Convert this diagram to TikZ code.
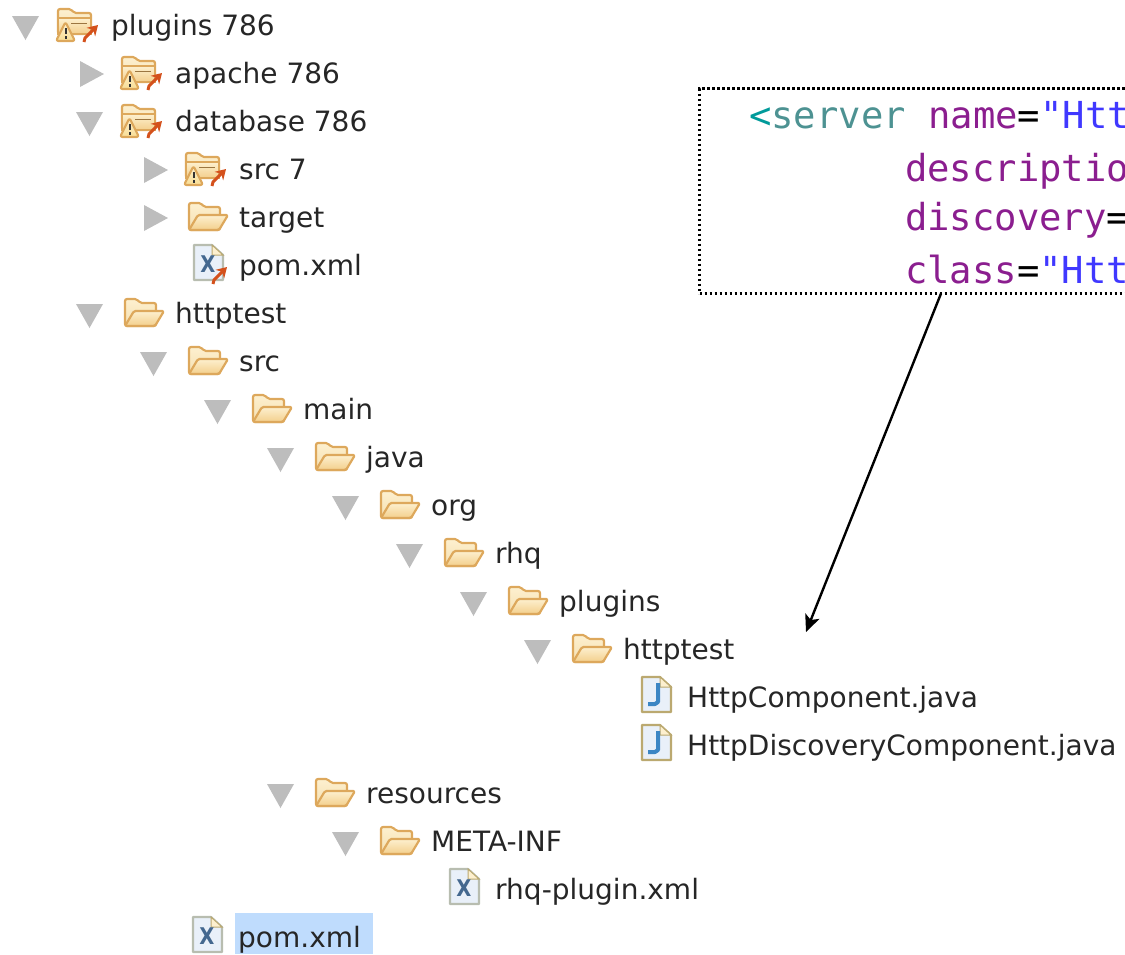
\documentclass[tikz,border=0pt]{standalone}
\usepackage{fontspec}
\setmainfont{DejaVu Sans}
\setmonofont{DejaVu Sans Mono}
\usetikzlibrary{arrows.meta,calc}
\definecolor{treeink}{HTML}{262626}
\definecolor{trigray}{HTML}{BDBDBD}
\definecolor{foldline}{HTML}{DDA85C}
\definecolor{foldback}{HTML}{F5E0B2}
\definecolor{foldfront}{HTML}{FDF0CF}
\definecolor{foldlow}{HTML}{F3CF8C}
\definecolor{warnfill}{HTML}{F8DD94}
\definecolor{linkorange}{HTML}{D4511C}
\definecolor{pagefill}{HTML}{E9F0F9}
\definecolor{pageline}{HTML}{BBA970}
\definecolor{xmlline}{HTML}{B8BDB0}
\definecolor{xmlblue}{HTML}{44688F}
\definecolor{javablue}{HTML}{3C86C4}
\definecolor{selblue}{HTML}{BFDCFD}
\definecolor{xmlpurple}{HTML}{8B1E8F}
\definecolor{xmlteal}{HTML}{009A9A}
\definecolor{xmlname}{HTML}{4D9292}
\definecolor{xmlvalue}{HTML}{4038FF}
\tikzset{
  treetext/.style={anchor=base west,inner sep=0pt,text=treeink,font=\fontsize{28}{30}\selectfont},
  codetext/.style={anchor=base west,inner sep=0pt,font=\ttfamily\fontsize{37.2}{40}\selectfont},
  pics/none/.style={code={}},
  pics/tridown/.style={code={\fill[trigray] (-99,-9) -- (-72,-9) -- (-85.5,15) -- cycle;}},
  pics/triright/.style={code={\fill[trigray] (-95,-12) -- (-71,1) -- (-95,14) -- cycle;}},
  pics/folderopen/.style={code={
    \filldraw[foldline,top color=foldfront,bottom color=foldback,line width=2.2pt,line join=round,rounded corners=2pt]
      (-50,13) -- (-50,-14) -- (-38,-14) -- (-35,-10) -- (-19,-10) -- (-19,13) -- cycle;
    \filldraw[foldline,top color=foldfront,bottom color=foldlow,line width=2.2pt,line join=round,rounded corners=1.5pt]
      (-50,13) -- (-41,-2) -- (-11,-2) -- (-20,13) -- cycle;
  }},
  pics/linkarrow/.style={code={
    \draw[linkorange,line width=3pt,-{Stealth[length=10pt,width=12pt]}] (-1,17) -- (0,13) -- (13,0);
  }},
  pics/folderwarn/.style={code={
    \filldraw[foldline,top color=foldfront,bottom color=foldback,line width=2.2pt,line join=round,rounded corners=2pt]
      (-53,9) -- (-53,-16) -- (-40,-16) -- (-37,-12) -- (-20,-12) -- (-20,9) -- cycle;
    \filldraw[foldline,top color=foldfront,bottom color=foldlow,line width=1.4pt] (-53,-7) -- (-20,-7) -- (-20,9) -- (-53,9) -- cycle;
    \draw[foldline!70!black,line width=1pt] (-40,-2) -- (-24,-2);
    \filldraw[foldline,top color=foldfront,bottom color=warnfill,line width=2.2pt,line join=round,rounded corners=2.5pt] (-55,16) -- (-45.5,-3) -- (-36,16) -- cycle;
    \fill[black!80] (-46.5,3) rectangle (-44.5,9);
    \fill[black!80] (-46.5,11) rectangle (-44.5,13.5);
    \pic at (-26,0) {linkarrow};
  }},
  pics/pagebase/.style={code={
    \filldraw[pageline,fill=pagefill,line width=2.2pt,line join=round]
      (-45,-20) -- (-27,-20) -- (-16,-10) -- (-16,15) -- (-45,15) -- cycle;
    \filldraw[pageline,fill=foldfront,line width=1pt] (-27,-20) -- (-27,-10) -- (-16,-10) -- cycle;
  }},
  pics/pagexmlbase/.style={code={
    \filldraw[xmlline,fill=pagefill,line width=2.2pt,line join=round]
      (-45,-20) -- (-27,-20) -- (-16,-10) -- (-16,15) -- (-45,15) -- cycle;
    \filldraw[pageline,fill=foldfront,line width=1pt] (-27,-20) -- (-27,-10) -- (-16,-10) -- cycle;
  }},
  pics/pagejava/.style={code={
    \pic {pagebase};
    \draw[javablue,line width=4pt,line join=round] (-29,-14) -- (-29,5) -- (-32,7) -- (-39,7);
  }},
  pics/pagexml/.style={code={
    \pic {pagexmlbase};
    \node[inner sep=0pt,text=xmlblue,font=\bfseries\fontsize{23}{24}\selectfont,xscale=.85] at (-31,-1) {X};
  }},
  pics/pagexmllink/.style={code={
    \pic {pagexml};
    \pic at (-25,2) {linkarrow};
  }}
}
\newcommand{\treerow}[6]{%
  \pic at (#2,#3) {#4};
  \pic at (#2,#3) {#5};
  \node[treetext] (#1) at (#2,#3+10) {#6};
}
\begin{document}
\begin{tikzpicture}[x=1pt,y=-1pt]
\useasboundingbox (0,0) rectangle (1125,954);
\fill[selblue] (235,913) rectangle (373,954);
\treerow{r1}{111}{25}{tridown}{folderwarn}{plugins 786}
\treerow{r2}{175}{73}{triright}{folderwarn}{apache 786}
\treerow{r3}{175}{121}{tridown}{folderwarn}{database 786}
\treerow{r4}{239}{169}{triright}{folderwarn}{src 7}
\treerow{r5}{239}{217}{triright}{folderopen}{target}
\treerow{r6}{239}{265}{none}{pagexmllink}{pom.xml}
\treerow{r7}{175}{313}{tridown}{folderopen}{httptest}
\treerow{r8}{239}{361}{tridown}{folderopen}{src}
\treerow{r9}{303}{409}{tridown}{folderopen}{main}
\treerow{r10}{366}{457}{tridown}{folderopen}{java}
\treerow{r11}{431}{505}{tridown}{folderopen}{org}
\treerow{r12}{495}{553}{tridown}{folderopen}{rhq}
\treerow{r13}{559}{601}{tridown}{folderopen}{plugins}
\treerow{r14}{623}{649}{tridown}{folderopen}{httptest}
\treerow{r15}{687}{697}{none}{pagejava}{HttpComponent.java}
\treerow{r16}{687}{745}{none}{pagejava}{HttpDiscoveryComponent.java}
\treerow{r17}{366}{793}{tridown}{folderopen}{resources}
\treerow{r18}{431}{841}{tridown}{folderopen}{META-INF}
\treerow{r19}{495}{889}{none}{pagexml}{rhq-plugin.xml}
\treerow{r20}{238}{937}{none}{pagexml}{pom.xml}
\node[draw=black,line width=2.8pt,dash pattern=on 2.8pt off 2.2pt,inner sep=0pt,outer sep=0pt,anchor=north west,minimum width=460pt,minimum height=205pt] (srvbox) at (699.5,88.5) {};
\node[codetext] (c1) at (749,128) {\textcolor{xmlteal}{<}\textcolor{xmlname}{server} \textcolor{xmlpurple}{name}\textcolor{black}{=}\textcolor{xmlvalue}{"Htt}};
\node[codetext] (c2) at (905,181) {\textcolor{xmlpurple}{descriptio}};
\node[codetext] (c3) at (905,230) {\textcolor{xmlpurple}{discovery}\textcolor{black}{=}};
\node[codetext] (c4) at (905,283) {\textcolor{xmlpurple}{class}\textcolor{black}{=}\textcolor{xmlvalue}{"Htt}};
\coordinate (arrowstart) at ($(srvbox.south west)+(241.5,0)$);
\coordinate (arrowend) at (806,632);
\draw[black,line width=2.4pt,-{Stealth[length=17pt,width=15pt,inset=4pt]}] (arrowstart) -- (arrowend);
\end{tikzpicture}
\end{document}
